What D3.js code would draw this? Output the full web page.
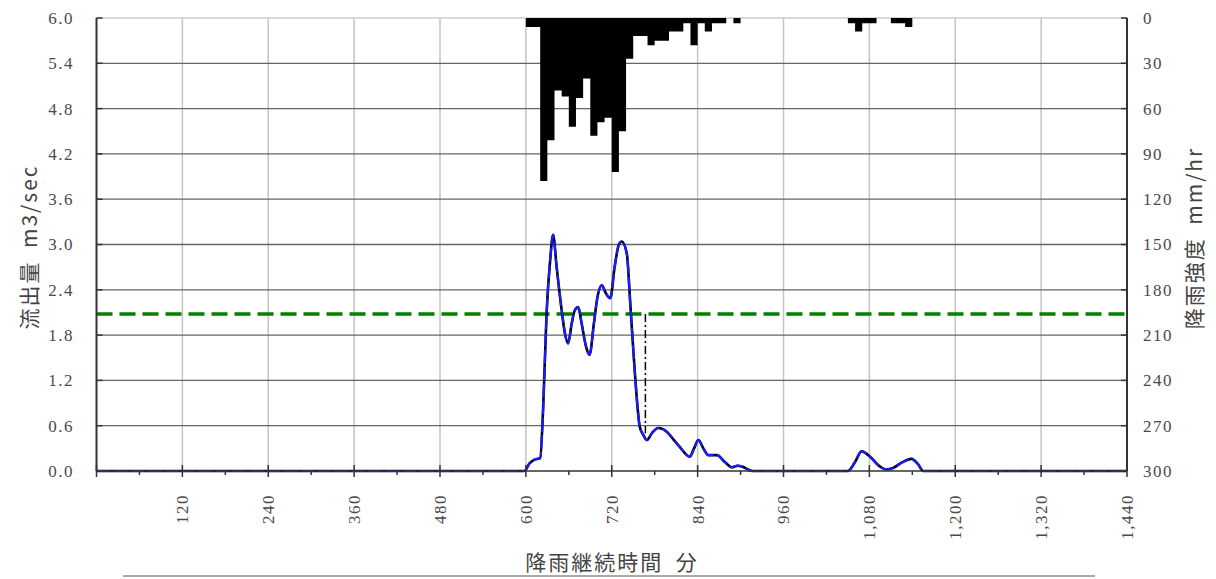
<!DOCTYPE html>
<html>
<head>
<meta charset="utf-8">
<script src="https://cdn.jsdelivr.net/npm/d3@7"></script>
<style>
  body { margin: 0; background: #fff; }
  .tick-label { font-family: "Liberation Serif", "DejaVu Serif", serif; font-size: 17px; letter-spacing: 1.5px; fill: #4a4a4a; }
  .title { font-family: "Noto Sans CJK JP", sans-serif; font-size: 21px; letter-spacing: 2px; fill: #444; }
</style>
</head>
<body>
<svg id="chart" width="1216" height="579"></svg>
<script>
// rain intensity, 10 minute bins (bin start in minutes, mm/hr)
var rainStart = [600, 610, 620, 630, 640, 650, 660, 670, 680, 690, 700, 710, 720, 730, 740, 750, 760, 770, 780, 790,
                 800, 810, 820, 830, 840, 850, 860, 870, 890, 1050, 1060, 1070, 1080, 1110, 1120, 1130];
var rainMm    = [6, 6, 108, 81, 48, 52, 72, 53, 40, 78, 69, 66, 102, 75, 27, 12, 12, 18, 15, 15,
                 9, 9, 3.5, 18, 3.5, 9, 3.5, 3.5, 3.5, 3.5, 9, 3.5, 3.5, 3.5, 3.5, 6];
var binMinutes = 10;

// runoff (minutes, m3/sec)
var flowTime  = [0, 598, 605, 612, 620, 624, 629, 634, 638, 643, 650, 655, 659, 664, 668, 673, 678, 684, 689, 695,
                 700, 706, 712, 718, 724, 730, 734, 741, 746, 752, 756, 759, 764, 769, 776, 785, 797, 806, 815, 829,
                 835, 841, 848, 855, 867, 878, 888, 896, 902, 916, 1050, 1060, 1069, 1081, 1092, 1104, 1113, 1125, 1139, 1148,
                 1155, 1440];
var flowValue = [0, 0, 0.1, 0.15, 0.17, 0.8, 2.1, 2.8, 3.13, 2.7, 2.13, 1.8, 1.69, 1.95, 2.12, 2.17, 1.95, 1.65, 1.54, 1.95,
                 2.3, 2.46, 2.35, 2.29, 2.7, 3.0, 3.04, 2.88, 2.2, 1.34, 0.85, 0.59, 0.48, 0.41, 0.5, 0.57, 0.52, 0.42, 0.32, 0.19,
                 0.3, 0.41, 0.3, 0.21, 0.21, 0.12, 0.05, 0.07, 0.06, 0, 0, 0.12, 0.26, 0.19, 0.08, 0.02, 0.04, 0.11, 0.16, 0.09,
                 0, 0];

var thresholdFlow = 2.08;          // green dashed reference
var markTime = 767, markFrom = 2.08, markTo = 0.5;   // dash-dot drop line

var xTicks = d3.range(120, 1441, 120);
var xMinor = d3.range(60, 1440, 120);
var yTicks = d3.range(0, 6.01, 0.6);
var rTicks = d3.range(0, 301, 30);

var svg = d3.select("#chart");

var x  = d3.scaleLinear().domain([0, 1440]).range([96.5, 1127]);
var y  = d3.scaleLinear().domain([0, 6]).range([471, 18]);
var yr = d3.scaleLinear().domain([0, 300]).range([18, 471]);

// grid
svg.selectAll("line.vgrid")
   .data(xTicks.slice(0, -1))
   .enter().append("line")
   .attr("x1", d => x(d)).attr("x2", d => x(d))
   .attr("y1", y(6)).attr("y2", y(0))
   .attr("stroke", "#c4c4c4").attr("stroke-width", 1.5);

svg.selectAll("line.hgrid")
   .data(yTicks.slice(1, -1))
   .enter().append("line")
   .attr("x1", x(0)).attr("x2", x(1440))
   .attr("y1", d => y(d)).attr("y2", d => y(d))
   .attr("stroke", "#666").attr("stroke-width", 1.3);

// top border
svg.append("line")
   .attr("x1", x(0)).attr("x2", x(1440))
   .attr("y1", y(6)).attr("y2", y(6))
   .attr("stroke", "#ccc").attr("stroke-width", 1.5);

// rain bars hanging from the top, drawn as one stepped shape so bins join without seams
var rainSteps = [];
rainStart.forEach(function(t, i) {
    var prevEnd = i > 0 ? rainStart[i - 1] + binMinutes : null;
    if (prevEnd !== t) rainSteps.push([t, 0]);
    rainSteps.push([t, rainMm[i]]);
    rainSteps.push([t + binMinutes, rainMm[i]]);
    var next = rainStart[i + 1];
    if (next !== t + binMinutes) rainSteps.push([t + binMinutes, 0]);
});

var rainArea = d3.area()
                 .x(d => x(d[0]))
                 .y0(yr(0))
                 .y1(d => yr(d[1]));

svg.append("path")
   .datum(rainSteps)
   .attr("d", rainArea)
   .attr("fill", "#000");

// threshold line
svg.append("line")
   .attr("x1", x(0)).attr("x2", x(1440))
   .attr("y1", y(thresholdFlow)).attr("y2", y(thresholdFlow))
   .attr("stroke", "#008000").attr("stroke-width", 3.5)
   .attr("stroke-dasharray", "16,7");

// drop line
svg.append("line")
   .attr("x1", x(markTime)).attr("x2", x(markTime))
   .attr("y1", y(markFrom)).attr("y2", y(markTo))
   .attr("stroke", "#000").attr("stroke-width", 1.5)
   .attr("stroke-dasharray", "8,3,2,3");

// runoff line
var flowData = flowTime.map((t, i) => [t, flowValue[i]]);
var line = d3.line()
             .x(d => x(d[0]))
             .y(d => y(d[1]))
             .curve(d3.curveMonotoneX);

svg.append("path")
   .datum(flowData)
   .attr("d", line)
   .attr("fill", "none")
   .attr("stroke", "#000").attr("stroke-width", 2.6);

svg.append("path")
   .datum(flowData)
   .attr("d", line)
   .attr("fill", "none")
   .attr("stroke", "#1a1aff").attr("stroke-width", 2.2)
   .attr("stroke-dasharray", "14,3");

// axes lines
svg.append("line")
   .attr("x1", x(0)).attr("x2", x(0)).attr("y1", y(6)).attr("y2", y(0))
   .attr("stroke", "#333").attr("stroke-width", 2);
svg.append("line")
   .attr("x1", x(1440)).attr("x2", x(1440)).attr("y1", y(6)).attr("y2", y(0))
   .attr("stroke", "#333").attr("stroke-width", 2);
svg.append("line")
   .attr("x1", x(0)).attr("x2", x(1440)).attr("y1", y(0)).attr("y2", y(0))
   .attr("stroke", "#333").attr("stroke-width", 1.5);

// ticks
svg.selectAll("line.ltick")
   .data(yTicks)
   .enter().append("line")
   .attr("x1", x(0)).attr("x2", x(0) + 6)
   .attr("y1", d => y(d)).attr("y2", d => y(d))
   .attr("stroke", "#333").attr("stroke-width", 1.5);

svg.selectAll("line.rtick")
   .data(rTicks)
   .enter().append("line")
   .attr("x1", x(1440) - 6).attr("x2", x(1440))
   .attr("y1", d => yr(d)).attr("y2", d => yr(d))
   .attr("stroke", "#333").attr("stroke-width", 1.5);

svg.selectAll("line.xtick")
   .data([0].concat(xTicks))
   .enter().append("line")
   .attr("x1", d => x(d)).attr("x2", d => x(d))
   .attr("y1", y(0) - 6).attr("y2", y(0) + 6)
   .attr("stroke", "#333").attr("stroke-width", 1.5);

svg.selectAll("line.xminor")
   .data(xMinor)
   .enter().append("line")
   .attr("x1", d => x(d)).attr("x2", d => x(d))
   .attr("y1", y(0)).attr("y2", y(0) + 4)
   .attr("stroke", "#333").attr("stroke-width", 1.5);

// tick labels
svg.selectAll("text.ylab")
   .data(yTicks)
   .enter().append("text")
   .attr("class", "tick-label")
   .attr("x", 74)
   .attr("y", d => y(d))
   .attr("dy", "0.35em")
   .attr("text-anchor", "end")
   .text(d => d3.format(".1f")(d));

svg.selectAll("text.rlab")
   .data(rTicks)
   .enter().append("text")
   .attr("class", "tick-label")
   .attr("x", 1143)
   .attr("y", d => yr(d))
   .attr("dy", "0.35em")
   .text(d => d);

svg.selectAll("text.xlab")
   .data(xTicks)
   .enter().append("text")
   .attr("class", "tick-label")
   .attr("transform", d => "translate(" + x(d) + ",494) rotate(-90)")
   .attr("dy", "0.35em")
   .attr("text-anchor", "end")
   .text(d => d3.format(",")(d));

// titles
svg.append("text")
   .attr("class", "title")
   .attr("transform", "translate(30,247) rotate(-90)")
   .attr("dy", "0.35em")
   .attr("text-anchor", "middle")
   .text("流出量\u2002m3/sec");

svg.append("text")
   .attr("class", "title")
   .attr("transform", "translate(1195,238) rotate(-90)")
   .attr("dy", "0.35em")
   .attr("text-anchor", "middle")
   .text("降雨強度\u2002mm/hr");

svg.append("text")
   .attr("class", "title")
   .attr("x", 612).attr("y", 563)
   .attr("dy", "0.35em")
   .attr("text-anchor", "middle")
   .text("降雨継続時間\u2002分");

svg.append("line")
   .attr("x1", 123).attr("x2", 1095)
   .attr("y1", 576).attr("y2", 576)
   .attr("stroke", "#aaa").attr("stroke-width", 2);
</script>
</body>
</html>
